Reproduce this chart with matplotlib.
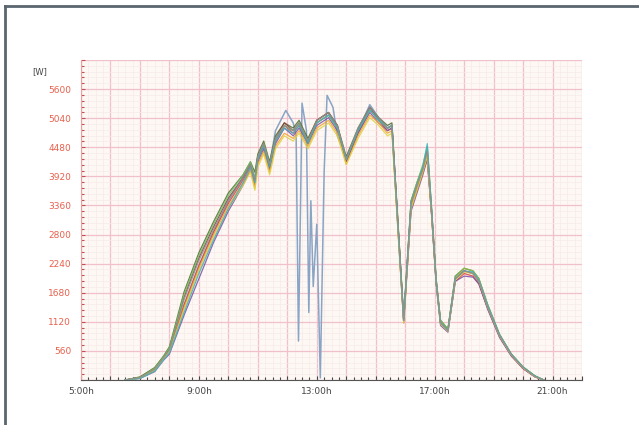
import numpy as np
import matplotlib
matplotlib.use("Agg")
import matplotlib.pyplot as plt
from matplotlib.lines import Line2D
from matplotlib.ticker import MultipleLocator, FuncFormatter

# time grid for the normal strings [h]
hours = [6.5, 7.0, 7.5, 7.8, 8.0, 8.5, 9.0, 9.5, 10.0, 10.5, 10.75, 10.9, 11.0, 11.2, 11.4,
         11.6, 11.9, 12.2, 12.4, 12.7, 13.0, 13.4, 13.7, 14.0, 14.4, 14.8, 15.1, 15.4, 15.55,
         15.75, 15.95, 16.2, 16.4, 16.6, 16.75, 16.9, 17.05, 17.2, 17.45, 17.7, 18.0, 18.3,
         18.5, 18.8, 19.2, 19.6, 20.0, 20.4, 20.7]

# power per inverter [W]
p_green = [0, 60, 240, 460, 640, 1700, 2450, 3050, 3600, 3950, 4200, 4000, 4350, 4600, 4200, 4700, 4950, 4850, 5000, 4650, 5000, 5150, 4900, 4300, 4850, 5250, 5050, 4900, 4950, 3100, 1200, 3450, 3800, 4100, 4400, 3250, 1950, 1150, 980, 2000, 2150, 2100, 1950, 1450, 880, 500, 250, 80, 0]
p_maroon = [0, 50, 220, 440, 600, 1600, 2350, 2950, 3500, 3900, 4150, 3850, 4300, 4550, 4100, 4650, 4950, 4800, 4950, 4600, 5000, 5150, 4900, 4200, 4800, 5250, 5000, 4850, 4900, 3050, 1150, 3350, 3700, 4000, 4300, 3200, 1900, 1100, 950, 1950, 2100, 2050, 1900, 1400, 860, 490, 240, 70, 0]
p_red = [0, 40, 190, 420, 560, 1450, 2200, 2850, 3400, 3850, 4100, 3800, 4250, 4500, 4100, 4600, 4900, 4750, 4900, 4550, 4950, 5100, 4850, 4200, 4750, 5200, 5000, 4800, 4850, 3000, 1150, 3300, 3650, 4000, 4250, 3150, 1900, 1100, 950, 1900, 2050, 2000, 1850, 1380, 840, 470, 220, 60, 0]
p_purple = [0, 30, 160, 380, 500, 1250, 1950, 2650, 3250, 3750, 4050, 3750, 4200, 4450, 4050, 4550, 4850, 4700, 4850, 4550, 4900, 5050, 4800, 4200, 4750, 5150, 4950, 4800, 4850, 2950, 1100, 3250, 3600, 3950, 4250, 3150, 1850, 1050, 920, 1900, 2000, 1980, 1850, 1360, 820, 460, 220, 60, 0]
p_orange = [0, 40, 200, 420, 560, 1400, 2150, 2800, 3350, 3800, 4050, 3700, 4150, 4400, 4000, 4500, 4750, 4650, 4800, 4500, 4850, 5000, 4750, 4150, 4700, 5100, 4950, 4750, 4800, 2950, 1100, 3350, 3700, 4050, 4350, 3200, 1900, 1100, 950, 1950, 2150, 2100, 1950, 1420, 860, 490, 240, 70, 0]
p_yellow = [0, 35, 180, 400, 540, 1350, 2100, 2750, 3300, 3750, 4000, 3650, 4100, 4350, 3950, 4450, 4700, 4600, 4750, 4450, 4800, 4950, 4700, 4150, 4650, 5050, 4900, 4700, 4750, 2900, 1100, 3300, 3650, 4000, 4300, 3150, 1880, 1080, 940, 1920, 2080, 2050, 1900, 1400, 850, 480, 230, 65, 0]
p_lgreen = [0, 50, 230, 450, 620, 1650, 2400, 3000, 3550, 3950, 4200, 3900, 4300, 4550, 4150, 4650, 4900, 4800, 4950, 4600, 4950, 5100, 4850, 4250, 4800, 5200, 5000, 4850, 4900, 3050, 1150, 3450, 3800, 4150, 4500, 3300, 1950, 1150, 980, 2000, 2150, 2100, 1950, 1450, 880, 500, 250, 80, 0]
p_teal = [0, 30, 170, 390, 520, 1300, 2050, 2700, 3300, 3800, 4100, 3800, 4250, 4500, 4100, 4600, 4850, 4750, 4900, 4550, 4950, 5100, 4850, 4250, 4800, 5200, 5000, 4850, 4900, 3000, 1150, 3400, 3750, 4100, 4550, 3250, 1900, 1100, 960, 1950, 2100, 2080, 1930, 1430, 870, 500, 250, 80, 0]
p_gray = [0, 45, 210, 430, 580, 1550, 2300, 2900, 3450, 3900, 4150, 3850, 4300, 4550, 4150, 4650, 4900, 4800, 4950, 4600, 5000, 5150, 4900, 4250, 4850, 5250, 5050, 4850, 4900, 3050, 1150, 3400, 3750, 4050, 4400, 3200, 1900, 1100, 950, 1950, 2100, 2050, 1900, 1400, 860, 490, 240, 70, 0]

# the partly shaded string (big drops around 13:00h)
hours_shaded = [6.5, 7.0, 7.5, 8.0, 8.5, 9.0, 9.5, 10.0, 10.5, 10.75, 10.9, 11.0, 11.2, 11.4,
                11.6, 11.95, 12.2, 12.3, 12.38, 12.5, 12.65, 12.73, 12.8, 12.88, 13.0, 13.12,
                13.25, 13.35, 13.55, 13.7, 14.0, 14.4, 14.8, 15.1, 15.4, 15.55, 15.75, 15.95,
                16.2, 16.4, 16.6, 16.75, 16.9, 17.05, 17.2, 17.45, 17.7, 18.0, 18.3, 18.5,
                18.8, 19.2, 19.6, 20.0, 20.4, 20.7]
p_shaded = [0, 40, 200, 560, 1450, 2200, 2850, 3450, 3900, 4150, 3850, 4300, 4500, 4150,
            4800, 5190, 4950, 4700, 750, 5330, 4800, 1300, 3450, 1800, 3000, 40,
            4000, 5480, 5250, 4700, 4250, 4800, 5300, 5050, 4850, 4900, 3000, 1150,
            3400, 3750, 4050, 4450, 3200, 1900, 1100, 950, 1950, 2100, 2050, 1900,
            1400, 850, 480, 230, 70, 0]

series = [p_green, p_maroon, p_red, p_purple, p_orange, p_yellow, p_lgreen, p_teal, p_gray]
colors = ["#4d6b2e", "#8b3a3a", "#d64040", "#7b4fa0", "#f0a030", "#e0d040", "#70c060", "#40b0c0", "#909090"]

fig = plt.figure(figsize=(6.39, 4.25), dpi=100)
ax = fig.add_axes([81 / 639, 1 - 380 / 425, 501 / 639, 320 / 425])
ax.set_facecolor("#fdf8f4")

ax.plot(hours_shaded, p_shaded, color="#8aa4c6", lw=1.1, zorder=3)
for p, c in zip(series, colors):
    ax.plot(hours, p, color=c, lw=0.9, alpha=0.85, zorder=4)

ax.set_xlim(5, 22)
ax.set_ylim(0, 6160)

ax.xaxis.set_major_locator(MultipleLocator(1))
ax.xaxis.set_minor_locator(MultipleLocator(0.25))
ax.xaxis.set_major_formatter(FuncFormatter(lambda v, pos: f"{int(round(v))}:00h" if (round(v) - 5) % 4 == 0 and 5 <= v <= 21 else ""))
ax.yaxis.set_major_locator(MultipleLocator(560))
ax.yaxis.set_minor_locator(MultipleLocator(112))
ax.yaxis.set_major_formatter(FuncFormatter(lambda v, pos: f"{int(v)}" if 0 < v < 6000 else ""))

ax.grid(which="major", color="#f0c0cc", lw=0.9)
ax.grid(which="minor", color="#f6ebe8", lw=0.5)
ax.set_axisbelow(True)

ax.tick_params(axis="x", which="both", direction="in", colors="#444444", labelsize=6.5, pad=5, length=3, width=0.8)
ax.tick_params(axis="x", which="minor", length=2)
ax.tick_params(axis="y", which="both", direction="in", colors="#c05050", labelcolor="#e8604c", labelsize=6.5, pad=7, length=3, width=0.8)
ax.tick_params(axis="y", which="minor", length=2)

for side in ["top", "right"]:
    ax.spines[side].set_visible(False)
ax.spines["left"].set_color("#e8a0a0")
ax.spines["bottom"].set_color("#555555")

fig.text(40 / 639, 1 - 72 / 425, "[W]", fontsize=6, color="#444444", ha="center", va="center")

# dark frame at left and top
fig.add_artist(Line2D([5 / 639, 5 / 639], [0, 1 - 6 / 425], transform=fig.transFigure, color="#5a6670", lw=2))
fig.add_artist(Line2D([5 / 639, 1], [1 - 6 / 425, 1 - 6 / 425], transform=fig.transFigure, color="#5a6670", lw=2))

fig.savefig("out.png", dpi=100)
